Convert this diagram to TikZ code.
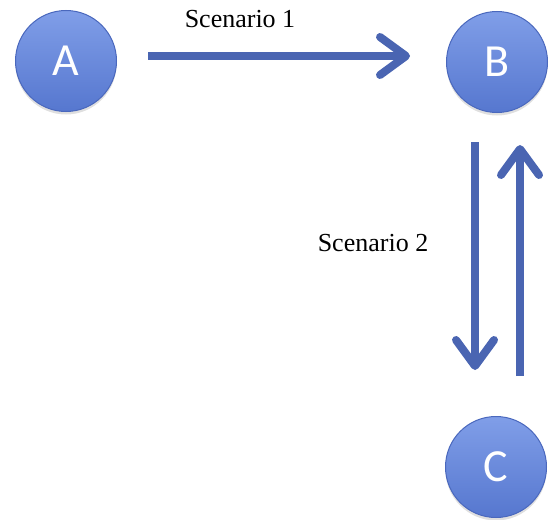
\documentclass[tikz,border=0pt]{standalone}
\usepackage{fontspec}
\setmainfont{Liberation Serif}
\newfontfamily\circfont{Carlito}
\usetikzlibrary{arrows.meta,shadows}
\definecolor{circtop}{HTML}{809EE8}
\definecolor{circbot}{HTML}{5677CF}
\definecolor{circline}{HTML}{4A68BD}
\definecolor{arrowcol}{HTML}{4A65B2}
\tikzset{
  circ/.style={circle, minimum size=101pt, inner sep=0pt, draw=circline, line width=1pt,
    top color=circtop, bottom color=circbot, text=white, font=\circfont\fontsize{46}{46}\selectfont,
    drop shadow={shadow xshift=0pt, shadow yshift=-3pt, opacity=0.25}},
  bigarrow/.style={draw=arrowcol, line width=8pt, -{Straight Barb[length=26pt,width=38pt,round]}},
  lbl/.style={font=\fontsize{26}{26}\selectfont, text=black}
}
\begin{document}
\begin{tikzpicture}[x=1pt,y=-1pt]
\useasboundingbox (0,0) rectangle (553,519);
\node[circ] (A) at (66,61) {A};
\node[circ] (B) at (497,62) {B};
\node[circ] (C) at (496,467) {C};
\coordinate (a1) at (148,56);
\coordinate (a2) at (410,56);
\draw[bigarrow] (a1) -- (a2);
\coordinate (d1) at (475,142);
\coordinate (d2) at (475,370);
\draw[bigarrow] (d1) -- (d2);
\coordinate (u1) at (520,376);
\coordinate (u2) at (520,145);
\draw[bigarrow] (u1) -- (u2);
\node[lbl] (s1) at (240,19) {Scenario 1};
\node[lbl] (s2) at (373,243) {Scenario 2};
\end{tikzpicture}
\end{document}
